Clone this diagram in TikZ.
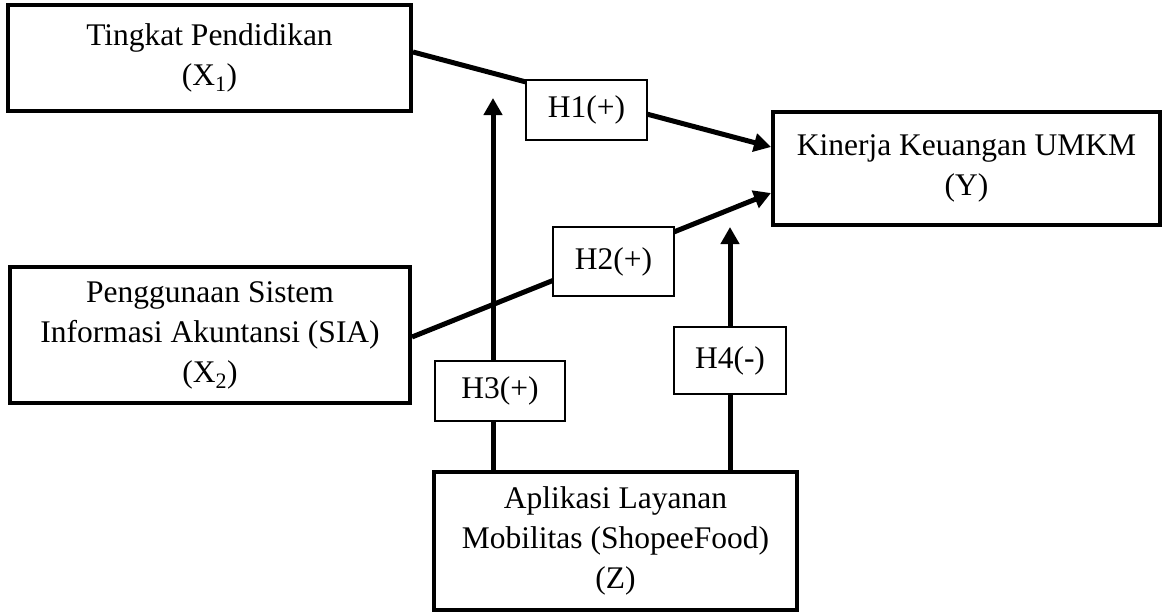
\documentclass[tikz,border=0pt]{standalone}
\usepackage{fontspec}
\setmainfont{Liberation Serif}
\usetikzlibrary{arrows.meta}

\tikzset{
  varbox/.style={draw, line width=4pt, align=center, inner sep=0pt,
    font=\fontsize{31.5}{40}\selectfont},
  hypbox/.style={draw, fill=white, line width=1.5pt, inner sep=0pt,
    font=\fontsize{31.5}{40}\selectfont},
  link/.style={line width=5pt}
}

\begin{document}
\begin{tikzpicture}[x=1pt, y=-1pt, >={Triangle[length=17pt,width=18pt]}]
 \useasboundingbox (0,0) rectangle (1163,613);
 % variables
 \node[varbox, minimum width=403pt, minimum height=106pt] (x1) at (209.5,58)
   {Tingkat Pendidikan\\(X\textsubscript{1})};
 \node[varbox, minimum width=400pt, minimum height=136pt] (x2) at (210,335)
   {Penggunaan Sistem\\Informasi Akuntansi (SIA)\\(X\textsubscript{2})};
 \node[varbox, minimum width=387pt, minimum height=113pt] (y) at (966.5,168.5)
   {Kinerja Keuangan UMKM\\(Y)};
 \node[varbox, minimum width=363pt, minimum height=138pt] (z) at (615.5,541)
   {Aplikasi Layanan\\Mobilitas (ShopeeFood)\\(Z)};

 \coordinate (h3end) at (493,98);
 \coordinate (h4end) at (730,227);

 \draw[link,->] ([yshift=6pt]x1.east) -- ([yshift=21.5pt]y.west);
 \draw[link,->] ([yshift=-2pt]x2.east) -- ([yshift=-24.5pt]y.west);
 \draw[link,->] (z.north -| h3end) -- (h3end);
 \draw[link,->] (z.north -| h4end) -- (h4end);

 % hypotheses
 \node[hypbox, minimum width=121pt, minimum height=60pt] (h1) at (586.5,110) {H1(+)};
 \node[hypbox, minimum width=121pt, minimum height=69pt] (h2) at (613.5,261.5) {H2(+)};
 \node[hypbox, minimum width=130pt, minimum height=60pt] (h3) at (500,391) {H3(+)};
 \node[hypbox, minimum width=112pt, minimum height=67pt] (h4) at (730,360.5) {H4(-)};
\end{tikzpicture}
\end{document}
